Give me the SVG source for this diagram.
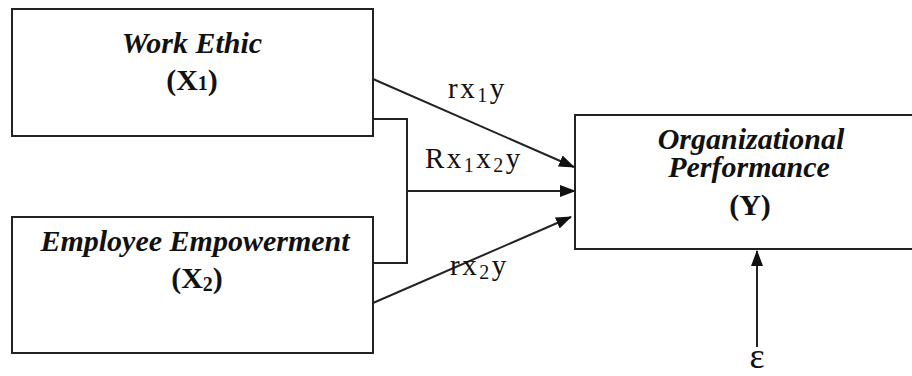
<svg xmlns="http://www.w3.org/2000/svg" width="912" height="376" viewBox="0 0 912 376">
<style>
.box{fill:#fff;stroke:#222;stroke-width:2}
.t{font-family:'Liberation Serif','Tinos','Times New Roman','DejaVu Serif',serif;font-size:30px;fill:#111;text-anchor:middle}
.bi{font-weight:bold;font-style:italic}
.b{font-weight:bold}
.lbl{font-family:'Liberation Serif','Tinos','Times New Roman','DejaVu Serif',serif;font-size:29px;fill:#111;letter-spacing:2.5px}
.sub{font-size:20px}
.c{fill:none;stroke:#222;stroke-width:2}
</style>
<defs>
<marker id="ah" markerWidth="16" markerHeight="12" refX="15" refY="6" orient="auto" markerUnits="userSpaceOnUse">
<path d="M0,0 L16,6 L0,12 Z" fill="#111"/>
</marker>
</defs>
<rect width="912" height="376" fill="#fff"/>
<g id="connectors">
<line class="c" x1="373" y1="79" x2="574" y2="167" marker-end="url(#ah)"/>
<polyline class="c" points="373,119 407,119 407,263 373,263"/>
<line class="c" x1="407" y1="191" x2="575" y2="191" marker-end="url(#ah)"/>
<line class="c" x1="373" y1="303" x2="571" y2="217" marker-end="url(#ah)"/>
<line class="c" x1="757" y1="347" x2="757" y2="251" marker-end="url(#ah)"/>
<text class="lbl" x="448" y="98">rx<tspan class="sub" dy="4">1</tspan><tspan dy="-4">y</tspan></text>
<text class="lbl" x="425" y="168">Rx<tspan class="sub" dy="4">1</tspan><tspan dy="-4">x</tspan><tspan class="sub" dy="4">2</tspan><tspan dy="-4">y</tspan></text>
<text class="lbl" x="450" y="275">rx<tspan class="sub" dy="4">2</tspan><tspan dy="-4">y</tspan></text>
<text class="lbl" x="757" y="368" style="font-size:36px;text-anchor:middle;letter-spacing:0">ε</text>
</g>
<g id="node-x1">
<rect class="box" x="12" y="9" width="361" height="127"/>
<text class="t bi" x="192" y="53">Work Ethic</text>
<text class="t b" x="192" y="90">(X<tspan class="sub">1</tspan>)</text>
</g>
<g id="node-x2">
<rect class="box" x="12" y="217" width="361" height="136"/>
<text class="t bi" x="195" y="251">Employee Empowerment</text>
<text class="t b" x="197" y="288">(X<tspan class="sub" dy="3">2</tspan><tspan dy="-3">)</tspan></text>
</g>
<g id="node-y">
<rect class="box" x="575" y="115" width="360" height="134"/>
<text class="t bi" x="751" y="149">Organizational</text>
<text class="t bi" x="749" y="177">Performance</text>
<text class="t b" x="750" y="215">(Y)</text>
</g>
</svg>
